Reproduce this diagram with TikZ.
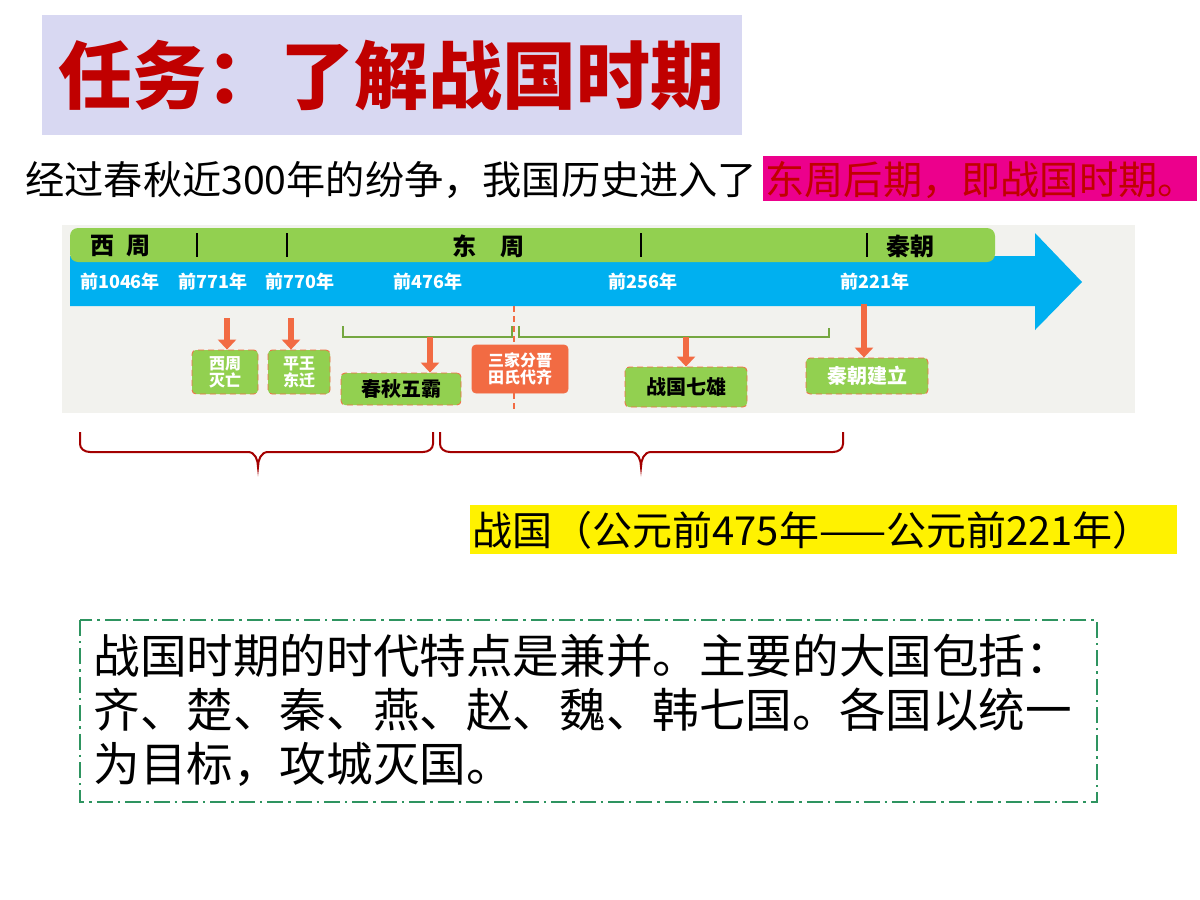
\documentclass[tikz,border=0pt]{standalone}
\usepackage{fontspec}
\newfontfamily\cjk{Noto Sans CJK SC}
\usetikzlibrary{positioning}
\definecolor{titlebg}{HTML}{D8D8F2}
\definecolor{darkred}{HTML}{C00000}
\definecolor{skyblue}{HTML}{00B0F0}
\definecolor{leaf}{HTML}{92D050}
\definecolor{carrot}{HTML}{F26B43}
\definecolor{paper}{HTML}{F2F2EE}
\definecolor{boxgreen}{HTML}{2E9460}
\tikzset{
  date/.style = {text = white, font = \cjk\bfseries\fontsize{9}{10}\selectfont},
  era/.style = {font = \cjk\bfseries\fontsize{12}{13}\selectfont},
  tick/.style = {line width = 1.3pt},
  event/.style = {fill = leaf, draw = carrot, densely dashed, rounded corners = 2pt,
    align = center, inner sep = 1pt, font = \cjk\bfseries\fontsize{8}{8.5}\selectfont, text = white},
  down/.style = {carrot, line width = 3pt, -{Triangle[length = 5pt, width = 9pt]}},
  bracket/.style = {leaf!80!black, line width = 0.6pt},
  brace/.style = {darkred!85!black, line width = 1pt}
}
\usetikzlibrary{arrows.meta}
\begin{document}
\begin{tikzpicture}[x = 0.5pt, y = -0.5pt]
  \useasboundingbox (0, 0) rectangle (1200, 900);
  % title
  \fill[titlebg] (42, 15) rectangle (742, 135);
  \node[anchor = west, inner sep = 0pt, text = darkred, font = \cjk\bfseries\fontsize{37}{38}\selectfont]
    (title) at (58, 75) {任务：了解战国时期};
  % intro line
  \fill[magenta] (763, 156) rectangle (1197, 201);
  \node[anchor = west, inner sep = 0pt, font = \cjk\fontsize{19.6}{20}\selectfont]
    (intro) at (25, 180) {经过春秋近300年的纷争，我国历史进入了};
  \node[anchor = west, inner sep = 0pt, text = darkred, font = \cjk\fontsize{19.6}{20}\selectfont]
    (later) at (765, 180) {东周后期，即战国时期。};

  % timeline
  \fill[paper] (62, 225) rectangle (1135, 413);
  \fill[skyblue] (70, 256) -- (1035, 256) -- (1035, 233) -- (1082, 282)
    -- (1035, 330) -- (1035, 306) -- (70, 306) -- cycle;
  \fill[leaf, rounded corners = 4pt] (70, 228) rectangle (995, 262);
  \node[era] (xizhou) at (120, 246) {西\enspace 周};
  \node[era] (dongzhou) at (488, 246) {东\quad 周};
  \node[era] (qin) at (910, 246) {秦朝};
  \foreach \x in {197, 287, 641, 867}
    \draw[tick] (\x, 233) -- (\x, 257);
  \node[date] (d1046) at (120, 282) {前1046年};
  \node[date] (d771) at (213, 282) {前771年};
  \node[date] (d770) at (300, 282) {前770年};
  \node[date] (d476) at (428, 282) {前476年};
  \node[date] (d256) at (643, 282) {前256年};
  \node[date] (d221) at (875, 282) {前221年};

  % events
  \node[event, minimum width = 33pt, minimum height = 22pt] (fall) at (225, 372) {西周\\灭亡};
  \node[event, minimum width = 31pt, minimum height = 22pt] (move) at (299, 372) {平王\\东迁};
  \node[event, minimum width = 60pt, minimum height = 16pt, text = black,
    font = \cjk\bfseries\fontsize{10}{11}\selectfont] (ba) at (401, 389) {春秋五霸};
  \node[event, fill = carrot, draw = carrot, solid, minimum width = 48pt, minimum height = 24pt]
    (jin) at (520, 369) {三家分晋\\田氏代齐};
  \node[event, minimum width = 61pt, minimum height = 20pt, text = black,
    font = \cjk\bfseries\fontsize{10}{11}\selectfont] (xiong) at (686, 387) {战国七雄};
  \node[event, minimum width = 61pt, minimum height = 18pt,
    font = \cjk\bfseries\fontsize{10}{11}\selectfont] (jian) at (867, 376) {秦朝建立};
  \draw[carrot, densely dashed, line width = 0.6pt] (514, 306) -- (514, 345);
  \draw[carrot, densely dashed, line width = 0.6pt] (514, 393) -- (514, 410);

  % brackets
  \draw[bracket] (343, 326) -- (343, 337) -- (512, 337) -- (512, 326);
  \draw[bracket] (519, 326) -- (519, 337) -- (829, 337) -- (829, 328);
  \coordinate (b1) at (430, 337);
  \coordinate (b2) at (686, 337);
  \coordinate (a1) at (227, 318);
  \coordinate (a2) at (291, 318);
  \coordinate (a3) at (864, 304);
  \draw[down] (a1) -- (fall.north -| a1);
  \draw[down] (a2) -- (move.north -| a2);
  \draw[down] (b1) -- (ba.north -| b1);
  \draw[down] (b2) -- (xiong.north -| b2);
  \draw[down] (a3) -- (jian.north -| a3);

  % braces
  \draw[brace] (80, 432) -- (80, 444) to[out = -90, in = 180] (90, 452) -- (248, 452)
    to[out = 0, in = 90] (258, 467) to[out = 90, in = 180] (268, 452) -- (423, 452)
    to[out = 0, in = -90] (433, 444) -- (433, 432);
  \draw[brace] (440, 432) -- (440, 444) to[out = -90, in = 180] (450, 452) -- (631, 452)
    to[out = 0, in = 90] (641, 467) to[out = 90, in = 180] (651, 452) -- (833, 452)
    to[out = 0, in = -90] (843, 444) -- (843, 432);

  % warring states span
  \fill[yellow] (470, 505) rectangle (1177, 554);
  \node[anchor = west, inner sep = 0pt, font = \cjk\fontsize{20}{21}\selectfont]
    (span) at (472, 530) {战国（公元前475年——公元前221年）};

  % summary
  \draw[boxgreen, line width = 1pt, dash pattern = on 8pt off 2.5pt on 1.2pt off 2.5pt]
    (80, 620) rectangle (1097, 802);
  \node[anchor = north west, align = left, inner sep = 0pt,
    font = \cjk\fontsize{23.3}{27}\selectfont] (summary) at (93, 634)
    {战国时期的时代特点是兼并。主要的大国包括：\\齐、楚、秦、燕、赵、魏、韩七国。各国以统一\\为目标，攻城灭国。};
\end{tikzpicture}
\end{document}
